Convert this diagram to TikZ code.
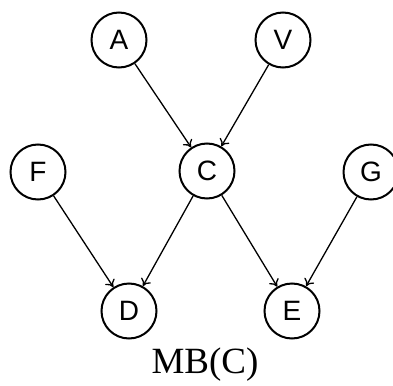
\documentclass[tikz,border=0pt]{standalone}
\usepackage{fontspec}
\setmainfont{Liberation Serif}
\newfontfamily\nodefont{Liberation Sans}
\usetikzlibrary{arrows.meta}
\begin{document}
\begin{tikzpicture}[x=1pt,y=-1pt,
  var/.style={circle,draw,line width=2pt,minimum size=55pt,inner sep=0pt,font=\nodefont\fontsize{28}{28}\selectfont},
  edge/.style={line width=1.3pt,-{To[length=7pt,width=11pt]}}]
\useasboundingbox (0,0) rectangle (393,385);
\node[var] (A) at (119,40) {A};
\node[var] (V) at (283,40) {V};
\node[var] (C) at (207,171) {C};
\node[var] (F) at (38,172) {F};
\node[var] (G) at (371,172) {G};
\node[var] (D) at (129,311) {D};
\node[var] (E) at (292,311) {E};
\node[font=\fontsize{37}{37}\selectfont] (mb) at (205,365) {MB(C)};
\draw[edge] (A) -- (C);
\draw[edge] (V) -- (C);
\draw[edge] (F) -- (D);
\draw[edge] (C) -- (D);
\draw[edge] (C) -- (E);
\draw[edge] (G) -- (E);
\end{tikzpicture}
\end{document}
